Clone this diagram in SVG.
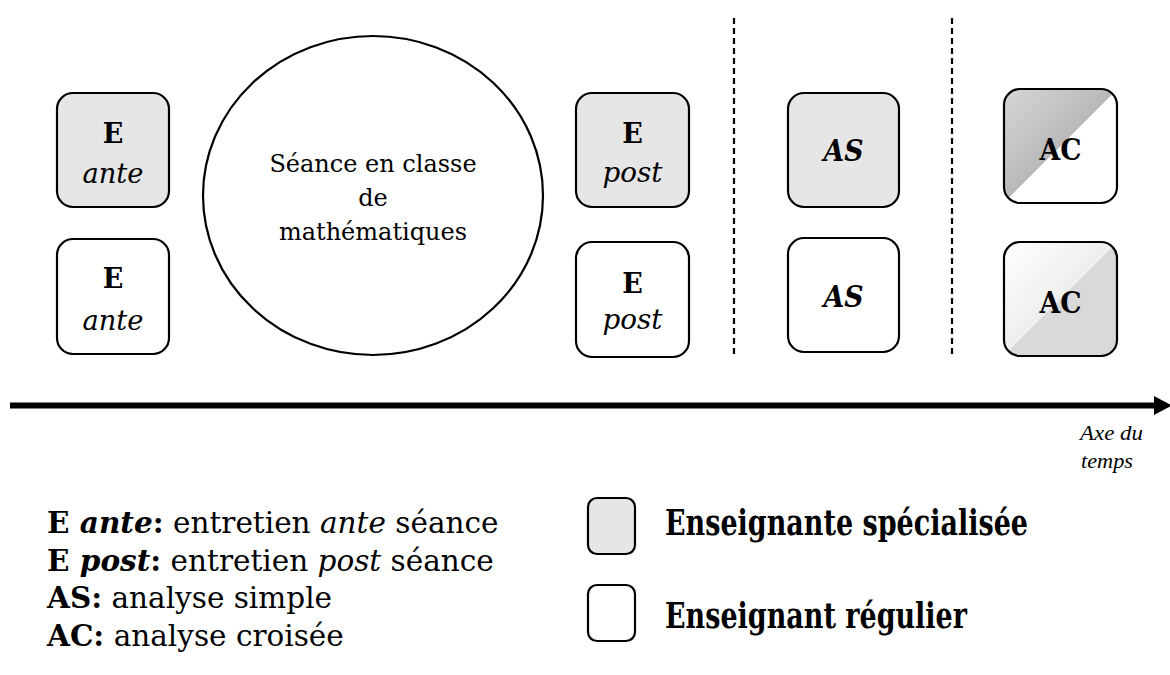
<svg xmlns="http://www.w3.org/2000/svg" width="1170" height="675" viewBox="0 0 1170 675">
<style>
.box{stroke:#000;stroke-width:2.2}
.gray{fill:#e6e6e6}
.white{fill:#fff}
.t{font-family:"DejaVu Serif","Liberation Serif",serif;fill:#000}
.b{font-weight:bold}
.i{font-style:italic}
.dash{stroke:#000;stroke-width:2.2;stroke-dasharray:6 4;fill:none}
</style>
<defs>
<linearGradient id="acTop" x1="0" y1="0" x2="1" y2="1">
<stop offset="0" stop-color="#d6d6d6"/>
<stop offset="0.5" stop-color="#b9b9b9"/>
<stop offset="0.5" stop-color="#ffffff"/>
<stop offset="1" stop-color="#ffffff"/>
</linearGradient>
<linearGradient id="acBot" x1="0" y1="0" x2="1" y2="1">
<stop offset="0" stop-color="#ffffff"/>
<stop offset="0.5" stop-color="#eeeeee"/>
<stop offset="0.5" stop-color="#d9d9d9"/>
<stop offset="1" stop-color="#d9d9d9"/>
</linearGradient>
</defs>
<rect width="1170" height="675" fill="#fff"/>

<g id="seance">
<ellipse cx="373" cy="195.5" rx="170" ry="159.5" fill="#fff" stroke="#000" stroke-width="2.2"/>
<text class="t" font-size="24" text-anchor="middle" x="373" y="172">Séance en classe</text>
<text class="t" font-size="24" text-anchor="middle" x="373" y="206">de</text>
<text class="t" font-size="24" text-anchor="middle" x="373" y="240">mathématiques</text>
</g>

<g id="e-ante-spec">
<rect class="box gray" x="57" y="93" width="112" height="114" rx="16"/>
<text class="t b" font-size="27" text-anchor="middle" x="113" y="143">E</text>
<text class="t i" font-size="28" text-anchor="middle" x="113" y="183" textLength="61" lengthAdjust="spacingAndGlyphs">ante</text>
</g>
<g id="e-ante-reg">
<rect class="box white" x="57" y="239" width="112" height="115" rx="16"/>
<text class="t b" font-size="27" text-anchor="middle" x="113" y="288">E</text>
<text class="t i" font-size="28" text-anchor="middle" x="113" y="330" textLength="61" lengthAdjust="spacingAndGlyphs">ante</text>
</g>
<g id="e-post-spec">
<rect class="box gray" x="576" y="93" width="113" height="114" rx="16"/>
<text class="t b" font-size="27" text-anchor="middle" x="632.5" y="143">E</text>
<text class="t i" font-size="28" text-anchor="middle" x="632.5" y="182" textLength="60" lengthAdjust="spacingAndGlyphs">post</text>
</g>
<g id="e-post-reg">
<rect class="box white" x="576" y="242" width="113" height="115" rx="16"/>
<text class="t b" font-size="27" text-anchor="middle" x="632.5" y="293">E</text>
<text class="t i" font-size="28" text-anchor="middle" x="632.5" y="329" textLength="60" lengthAdjust="spacingAndGlyphs">post</text>
</g>
<g id="as-spec">
<rect class="box gray" x="788" y="93" width="111" height="114" rx="16"/>
<text class="t b i" font-size="29" text-anchor="middle" x="843.5" y="161" textLength="40" lengthAdjust="spacingAndGlyphs">AS</text>
</g>
<g id="as-reg">
<rect class="box white" x="788" y="238" width="111" height="114" rx="16"/>
<text class="t b i" font-size="29" text-anchor="middle" x="843.5" y="307" textLength="40" lengthAdjust="spacingAndGlyphs">AS</text>
</g>
<g id="ac-spec">
<rect class="box" fill="url(#acTop)" x="1004" y="89" width="113" height="114" rx="16"/>
<text class="t b" font-size="30" text-anchor="middle" x="1060.5" y="160" textLength="42" lengthAdjust="spacingAndGlyphs">AC</text>
</g>
<g id="ac-reg">
<rect class="box" fill="url(#acBot)" x="1004" y="242" width="113" height="114" rx="16"/>
<text class="t b" font-size="30" text-anchor="middle" x="1060.5" y="313" textLength="42" lengthAdjust="spacingAndGlyphs">AC</text>
</g>

<g id="connectors">
<line class="dash" x1="734" y1="18" x2="734" y2="357"/>
<line class="dash" x1="952" y1="18" x2="952" y2="357"/>
<line x1="10" y1="405.5" x2="1156" y2="405.5" stroke="#000" stroke-width="6"/>
<polygon points="1154,396 1172,405.5 1154,415" fill="#000"/>
</g>

<g id="axis-label">
<text font-family="'Liberation Serif',serif" font-style="italic" font-size="22" x="1080" y="440" textLength="63" lengthAdjust="spacingAndGlyphs">Axe du</text>
<text font-family="'Liberation Serif',serif" font-style="italic" font-size="22" x="1081" y="468" textLength="52" lengthAdjust="spacingAndGlyphs">temps</text>
</g>

<g id="legend-abbrev">
<text class="t" font-size="29.5" x="47" y="533"><tspan class="b">E </tspan><tspan class="b i">ante</tspan><tspan class="b">:</tspan> entretien <tspan class="i">ante</tspan> séance</text>
<text class="t" font-size="29.5" x="47" y="571"><tspan class="b">E </tspan><tspan class="b i">post</tspan><tspan class="b">:</tspan> entretien <tspan class="i">post</tspan> séance</text>
<text class="t" font-size="29.5" x="47" y="608"><tspan class="b">AS:</tspan> analyse simple</text>
<text class="t" font-size="29.5" x="47" y="646"><tspan class="b">AC:</tspan> analyse croisée</text>
</g>

<g id="legend-spec">
<rect class="box gray" x="588" y="498" width="47" height="56" rx="9"/>
<text class="t b" font-size="35" x="665" y="535" textLength="363" lengthAdjust="spacingAndGlyphs">Enseignante spécialisée</text>
</g>
<g id="legend-reg">
<rect class="box white" x="588" y="585" width="47" height="56" rx="9"/>
<text class="t b" font-size="35" x="665" y="628" textLength="302" lengthAdjust="spacingAndGlyphs">Enseignant régulier</text>
</g>
</svg>
